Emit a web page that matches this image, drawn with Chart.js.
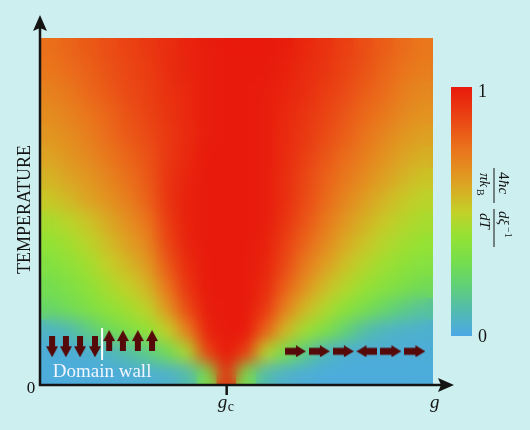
<!DOCTYPE html>
<html>
<head>
<meta charset="utf-8">
<script src="https://cdn.jsdelivr.net/npm/chart.js@4"></script>
<style>
  html, body { margin: 0; padding: 0; background: #cdefef; }
  #chart { display: block; }
</style>
</head>
<body>
<canvas id="chart" width="530" height="430"></canvas>
<script>
// === Data ===
// coupling g: column centres (g_c falls on the 10th column)
const gCols = [0.025, 0.075, 0.125, 0.175, 0.225, 0.275, 0.325, 0.375, 0.425, 0.475,
               0.525, 0.575, 0.625, 0.675, 0.725, 0.775, 0.825, 0.875, 0.925, 0.975];
// temperature bands, lower edge, top band first
const tBandLow = [0.9375, 0.875, 0.8125, 0.75, 0.6875, 0.625, 0.5625, 0.5,
                  0.4375, 0.375, 0.3125, 0.25, 0.1875, 0.125, 0.0625, 0];
const BAND = 0.0625;

// (4hc / pi kB) d(xi^-1)/dT, normalised 0..1, one row per temperature band
const row01 = [.76, .79, .82, .85, .88, .91, .94, .97, .99, 1, 1, 1, .99, .96, .93, .89, .85, .81, .77, .74];
const row02 = [.74, .77, .80, .84, .87, .90, .94, .97, .99, 1, 1, 1, .98, .95, .92, .88, .84, .79, .75, .72];
const row03 = [.71, .74, .78, .82, .86, .89, .93, .96, .99, 1, 1, .99, .97, .94, .90, .86, .81, .77, .72, .69];
const row04 = [.68, .71, .75, .79, .84, .88, .92, .96, .99, 1, 1, .99, .96, .92, .88, .83, .78, .74, .69, .66];
const row05 = [.65, .68, .72, .77, .82, .86, .91, .95, .99, 1, 1, .99, .95, .91, .86, .81, .75, .70, .65, .62];
const row06 = [.61, .65, .69, .74, .79, .84, .91, .96, 1, 1, 1, .99, .95, .89, .83, .77, .72, .66, .61, .58];
const row07 = [.57, .61, .65, .70, .76, .82, .92, .97, 1, 1, 1, .99, .94, .87, .80, .74, .68, .62, .57, .53];
const row08 = [.52, .56, .61, .66, .72, .80, .92, .98, 1, 1, 1, .99, .94, .86, .78, .70, .63, .57, .52, .48];
const row09 = [.44, .48, .53, .60, .67, .75, .90, .98, 1, 1, 1, .99, .92, .83, .74, .65, .58, .52, .47, .44];
const row10 = [.39, .43, .48, .55, .62, .70, .87, .97, 1, 1, 1, .98, .89, .79, .69, .60, .53, .47, .43, .40];
const row11 = [.34, .38, .43, .50, .56, .64, .82, .95, 1, 1, 1, .97, .86, .73, .63, .54, .47, .42, .38, .35];
const row12 = [.29, .33, .38, .44, .50, .57, .75, .92, 1, 1, 1, .95, .80, .66, .55, .47, .41, .36, .32, .28];
const row13 = [.24, .28, .33, .38, .43, .49, .65, .86, .99, 1, 1, .91, .71, .56, .46, .38, .31, .24, .18, .14];
const row14 = [.06, .10, .18, .27, .33, .39, .50, .72, .97, 1, 1, .80, .56, .42, .33, .22, .12, .07, .05, .04];
const row15 = [.03, .03, .04, .07, .12, .18, .28, .45, .88, 1, .90, .48, .30, .18, .08, .04, .03, .03, .03, .03];
const row16 = [.02, .02, .02, .02, .03, .04, .05, .10, .30, .95, .30, .10, .05, .03, .02, .02, .02, .02, .02, .02];
const heatRows = [row01, row02, row03, row04, row05, row06, row07, row08,
                  row09, row10, row11, row12, row13, row14, row15, row16];

// critical coupling
const G_C = 0.475;

// spin cartoons (g, T)
const downSpinsG = [0.031, 0.066, 0.102, 0.140];
const downSpinsT = 0.110;
const upSpinsG = [0.176, 0.211, 0.249, 0.285];
const upSpinsT = 0.128;
const sideSpinsG = [0.650, 0.711, 0.772, 0.832, 0.893, 0.954];
const sideSpinsDir = ['right', 'right', 'right', 'left', 'right', 'right'];
const sideSpinsT = 0.097;
const wallG = 0.158;
const wallT = [0.072, 0.164];

// colour scale
const cmapStops = [0, 0.1, 0.2, 0.3, 0.4, 0.5, 0.62, 0.75, 0.87, 1];
const cmapColors = [[76, 168, 230], [82, 186, 176], [96, 208, 120], [118, 222, 76], [148, 226, 52],
                    [196, 208, 40], [222, 160, 34], [234, 116, 28], [234, 70, 20], [232, 26, 12]];

// === Helpers ===
function colorAt(v) {
    for (let i = 0; i < cmapStops.length - 1; i++) {
        if (v <= cmapStops[i + 1]) {
            const f = (v - cmapStops[i]) / (cmapStops[i + 1] - cmapStops[i]);
            const a = cmapColors[i], b = cmapColors[i + 1];
            return `rgb(${Math.round(a[0] + f * (b[0] - a[0]))},${Math.round(a[1] + f * (b[1] - a[1]))},${Math.round(a[2] + f * (b[2] - a[2]))})`;
        }
    }
    const c = cmapColors[cmapColors.length - 1];
    return `rgb(${c[0]},${c[1]},${c[2]})`;
}

function makeArrow(w, h, shaft, headLen) {
    const c = document.createElement('canvas');
    c.width = w; c.height = h;
    const g = c.getContext('2d');
    g.fillStyle = '#560909';
    g.beginPath();
    g.moveTo(w / 2, 0);
    g.lineTo(w, headLen);
    g.lineTo(w / 2 + shaft / 2, headLen);
    g.lineTo(w / 2 + shaft / 2, h);
    g.lineTo(w / 2 - shaft / 2, h);
    g.lineTo(w / 2 - shaft / 2, headLen);
    g.lineTo(0, headLen);
    g.closePath();
    g.fill();
    return c;
}

const vertArrow = makeArrow(12, 21, 6, 11);
const sideArrow = makeArrow(12, 21, 7, 10);

const heatPoints = [];
const heatColors = [];
heatRows.forEach((row, r) => {
    row.forEach((v, c) => {
        heatPoints.push({ x: gCols[c], y: [tBandLow[r], tBandLow[r] + BAND] });
        heatColors.push(colorAt(v));
    });
});

// === Plugins ===
// draws the cell grid once sharp, then once blurred on top, for a smooth map
const smoothHeatPlugin = {
    id: 'smoothHeat',
    beforeDatasetDraw(chart, args) {
        if (args.index !== 0) return;
        const area = chart.chartArea;
        const off = document.createElement('canvas');
        off.width = chart.width;
        off.height = chart.height;
        const octx = off.getContext('2d');
        args.meta.data.forEach(el => el.draw(octx));
        const ctx = chart.ctx;
        ctx.save();
        ctx.beginPath();
        ctx.rect(area.left, area.top, area.right - area.left, area.bottom - area.top);
        ctx.clip();
        ctx.drawImage(off, 0, 0);
        ctx.filter = 'blur(8px)';
        ctx.drawImage(off, 0, 0);
        ctx.restore();
        return false;
    }
};

const overlayPlugin = {
    id: 'overlay',
    afterDraw(chart) {
        const ctx = chart.ctx;
        const a = chart.chartArea;
        const xs = chart.scales.x, ys = chart.scales.y;
        const ink = '#141414';
        ctx.save();

        // axes
        ctx.strokeStyle = ink;
        ctx.fillStyle = ink;
        ctx.lineWidth = 2.5;
        ctx.beginPath();
        ctx.moveTo(a.left, a.bottom + 1);
        ctx.lineTo(a.left, a.top - 10);
        ctx.moveTo(a.left - 1, a.bottom);
        ctx.lineTo(a.right + 10, a.bottom);
        const xc = xs.getPixelForValue(G_C);
        ctx.moveTo(xc, a.bottom);
        ctx.lineTo(xc, a.bottom + 10);
        ctx.stroke();

        ctx.beginPath();
        ctx.moveTo(a.left, a.top - 23);
        ctx.lineTo(a.left + 7, a.top - 7);
        ctx.lineTo(a.left, a.top - 10);
        ctx.lineTo(a.left - 7, a.top - 7);
        ctx.closePath();
        ctx.fill();

        ctx.beginPath();
        ctx.moveTo(a.right + 21, a.bottom);
        ctx.lineTo(a.right + 5, a.bottom - 7);
        ctx.lineTo(a.right + 8, a.bottom);
        ctx.lineTo(a.right + 5, a.bottom + 7);
        ctx.closePath();
        ctx.fill();

        // axis labels
        ctx.textAlign = 'center';
        ctx.textBaseline = 'alphabetic';
        ctx.font = '17px "Liberation Serif"';
        ctx.fillText('0', a.left - 9, a.bottom + 8);

        ctx.save();
        ctx.translate(a.left - 15, (a.top + a.bottom) / 2 - 2);
        ctx.rotate(-Math.PI / 2);
        ctx.textBaseline = 'middle';
        ctx.font = '18px "Liberation Serif"';
        ctx.fillText('TEMPERATURE', 0, 0);
        ctx.restore();

        ctx.textAlign = 'left';
        ctx.font = 'italic 19px "Liberation Serif"';
        ctx.fillText('g', xc - 9, a.bottom + 23);
        ctx.font = '14px "Liberation Serif"';
        ctx.fillText('c', xc + 1, a.bottom + 26);
        ctx.font = 'italic 19px "Liberation Serif"';
        ctx.fillText('g', a.right - 3, a.bottom + 23);

        // domain wall caption
        ctx.fillStyle = '#f2f6ff';
        ctx.textAlign = 'center';
        ctx.font = '19px "Liberation Serif"';
        ctx.fillText('Domain wall', xs.getPixelForValue(wallG), ys.getPixelForValue(0.023));

        // colour bar
        const cbL = 451, cbR = 472, cbT = 87, cbB = 336;
        const grad = ctx.createLinearGradient(0, cbB, 0, cbT);
        cmapStops.forEach(s => grad.addColorStop(s, colorAt(s)));
        ctx.fillStyle = grad;
        ctx.fillRect(cbL, cbT, cbR - cbL, cbB - cbT);
        ctx.fillStyle = ink;
        ctx.textAlign = 'left';
        ctx.font = '18px "Liberation Serif"';
        ctx.fillText('1', cbR + 6, cbT + 10);
        ctx.fillText('0', cbR + 6, cbB + 6);

        // colour bar title, rotated
        ctx.save();
        ctx.translate(494, 168);
        ctx.rotate(Math.PI / 2);
        ctx.lineWidth = 1;
        ctx.strokeStyle = ink;
        ctx.beginPath();
        ctx.moveTo(0, 0); ctx.lineTo(35, 0);
        ctx.moveTo(41, 0); ctx.lineTo(79, 0);
        ctx.stroke();
        ctx.textAlign = 'left';
        ctx.font = '15px "Liberation Serif"';
        ctx.fillText('4', 4, -5);
        ctx.font = 'italic 15px "Liberation Serif"';
        ctx.fillText('ħc', 12, -5);
        ctx.fillText('πk', 5, 14);
        ctx.font = '10px "Liberation Serif"';
        ctx.fillText('B', 21, 17);
        ctx.font = 'italic 15px "Liberation Serif"';
        ctx.fillText('dξ', 43, -5);
        ctx.font = '10px "Liberation Serif"';
        ctx.fillText('−1', 59, -11);
        ctx.font = 'italic 15px "Liberation Serif"';
        ctx.fillText('dT', 45, 14);
        ctx.restore();

        ctx.restore();
    }
};

// === Chart ===
const ctx = document.getElementById('chart').getContext('2d');

const chart = new Chart(ctx, {
    type: 'bar',
    data: {
        datasets: [
            {
                label: 'heat',
                data: heatPoints,
                backgroundColor: heatColors,
                borderWidth: 0,
                barPercentage: 1,
                categoryPercentage: 1,
                grouped: false,
                order: 10
            },
            {
                type: 'scatter',
                label: 'down spins',
                data: downSpinsG.map(g => ({ x: g, y: downSpinsT })),
                pointStyle: vertArrow,
                pointRotation: 180
            },
            {
                type: 'scatter',
                label: 'up spins',
                data: upSpinsG.map(g => ({ x: g, y: upSpinsT })),
                pointStyle: vertArrow,
                pointRotation: 0
            },
            {
                type: 'scatter',
                label: 'paramagnet spins',
                data: sideSpinsG.map(g => ({ x: g, y: sideSpinsT })),
                pointStyle: sideArrow,
                pointRotation: sideSpinsDir.map(d => d === 'right' ? 90 : 270)
            },
            {
                type: 'line',
                label: 'domain wall',
                data: wallT.map(t => ({ x: wallG, y: t })),
                borderColor: '#ffffff',
                borderWidth: 2,
                pointRadius: 0
            }
        ]
    },
    options: {
        responsive: false,
        animation: false,
        events: [],
        layout: { padding: { left: 40, top: 38, right: 97, bottom: 45 } },
        scales: {
            x: { type: 'linear', min: 0, max: 1, offset: false, display: false },
            y: { type: 'linear', min: 0, max: 1, display: false }
        },
        plugins: {
            legend: { display: false },
            tooltip: { enabled: false }
        }
    },
    plugins: [smoothHeatPlugin, overlayPlugin]
});
</script>
</body>
</html>
